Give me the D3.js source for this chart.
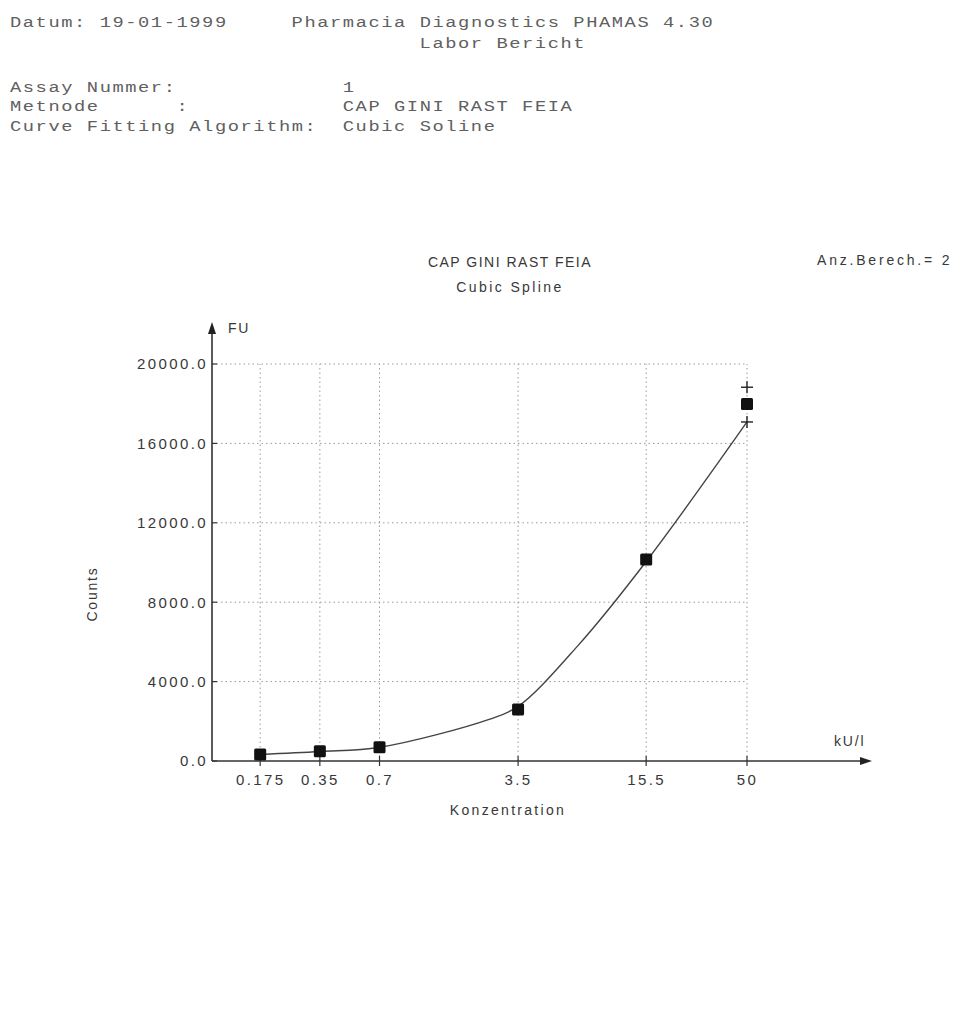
<!DOCTYPE html>
<html>
<head>
<meta charset="utf-8">
<script src="https://cdn.jsdelivr.net/npm/d3@7"></script>
<style>
  html, body { margin: 0; padding: 0; background: #fff; }
  svg { display: block; }
  .mono { font-family: "Liberation Mono", "DejaVu Sans Mono", monospace; font-size: 15px; fill: #606060; letter-spacing: 1.25px; }
  .sans { font-family: "Liberation Sans", Arial, sans-serif; font-size: 14px; fill: #383838; letter-spacing: 1.8px; }
</style>
</head>
<body>
<script>
// Standards of the calibration (concentration in kU/l)
const concentrations = [0.175, 0.35, 0.7, 3.5, 15.5, 50];
// Measured fluorescence (FU) of each standard, mean of replicates
const meanCounts = [330, 490, 690, 2600, 10150, 17980];
// Single replicate readings plotted as "+" at the top standard
const replicateConc = [50, 50];
const replicateCounts = [18830, 17080];
// Cubic spline fit, evaluated at a set of concentrations along the range
const fitConc = [0.175, 0.35, 0.7, 2.5, 3.5, 7, 15.5, 50];
const fitCounts = [330, 480, 690, 2100, 2750, 5800, 10050, 17080];
// Axis ticks
const xTicks = [0.175, 0.35, 0.7, 3.5, 15.5, 50];
const xTickLabels = ["0.175", "0.35", "0.7", "3.5", "15.5", "50"];
const yTicks = [0, 4000, 8000, 12000, 16000, 20000];

// Report header lines (column layout of the printout)
const headerLines = [
  { col: 0, row: 0, text: "Datum: 19-01-1999" },
  { col: 22, row: 0, text: "Pharmacia Diagnostics PHAMAS 4.30" },
  { col: 32, row: 1, text: "Labor Bericht" },
  { col: 0, row: 3, text: "Assay Nummer:" },
  { col: 26, row: 3, text: "1" },
  { col: 0, row: 4, text: "Metnode      :" },
  { col: 26, row: 4, text: "CAP GINI RAST FEIA" },
  { col: 0, row: 5, text: "Curve Fitting Algorithm:" },
  { col: 26, row: 5, text: "Cubic Soline" }
];

const W = 960, H = 1012;
const svg = d3.select("body").append("svg").attr("width", W).attr("height", H);

// Header: printer text, glyphs widened to the 12.8px printer pitch
const charW = 12.8, stretch = 1.25;
const rowY = [27, 48, 69, 92, 111, 131];
svg.append("g").attr("transform", `scale(${stretch},1)`)
  .selectAll("text").data(headerLines).join("text")
  .attr("class", "mono")
  .attr("x", d => (10 + d.col * charW) / stretch)
  .attr("y", d => rowY[d.row])
  .attr("xml:space", "preserve")
  .style("white-space", "pre")
  .text(d => d.text);

// Scales
const x = d3.scaleLog().domain([0.1, 50]).range([212, 747]);
const y = d3.scaleLinear().domain([0, 20000]).range([761, 364]);
const x0 = x.range()[0], xEnd = 872;
const y0 = y(0), yTop = 322;

// Grid
const grid = svg.append("g").attr("stroke", "#9a9a9a").attr("stroke-width", 1).attr("stroke-dasharray", "1.5,3");
grid.selectAll("line.h").data(yTicks.filter(v => v > 0)).join("line")
  .attr("x1", x0).attr("x2", x(50))
  .attr("y1", d => y(d)).attr("y2", d => y(d));
grid.selectAll("line.v").data(xTicks).join("line")
  .attr("x1", d => x(d)).attr("x2", d => x(d))
  .attr("y1", y0).attr("y2", y(20000));

// Axes
const axisColor = "#333";
svg.append("line").attr("x1", x0).attr("x2", xEnd - 8).attr("y1", y0).attr("y2", y0)
  .attr("stroke", axisColor).attr("stroke-width", 1.6);
svg.append("line").attr("x1", x0).attr("x2", x0).attr("y1", y0).attr("y2", yTop + 8)
  .attr("stroke", axisColor).attr("stroke-width", 1.6);
svg.append("path").attr("d", `M${xEnd},${y0} l-12,-4 l0,8 z`).attr("fill", "#222");
svg.append("path").attr("d", `M${x0},${yTop} l-4,12 l8,0 z`).attr("fill", "#222");

// Ticks
const yAxis = d3.axisLeft(y).tickValues(yTicks).tickSize(0).tickPadding(6).tickFormat(d3.format(".1f"));
const yg = svg.append("g").attr("transform", `translate(${x0},0)`).call(yAxis);
yg.select(".domain").remove();
yg.selectAll("text").attr("class", "sans").attr("font-family", null).attr("font-size", null)
  .style("font-size", "15px").style("letter-spacing", "2.4px").attr("dx", "2px");
svg.append("g").selectAll("line").data(yTicks).join("line")
  .attr("x1", x0).attr("x2", x0 + 5).attr("y1", d => y(d)).attr("y2", d => y(d))
  .attr("stroke", axisColor).attr("stroke-width", 1.2);

const xAxis = d3.axisBottom(x).tickValues(xTicks).tickSize(0).tickPadding(13)
  .tickFormat((d, i) => xTickLabels[i]);
const xg = svg.append("g").attr("transform", `translate(0,${y0})`).call(xAxis);
xg.select(".domain").remove();
xg.selectAll("text").attr("class", "sans").attr("font-family", null).attr("font-size", null)
  .style("font-size", "15px").style("letter-spacing", "2.4px");
svg.append("g").selectAll("line").data(xTicks).join("line")
  .attr("x1", d => x(d)).attr("x2", d => x(d)).attr("y1", y0 - 5).attr("y2", y0 + 5)
  .attr("stroke", axisColor).attr("stroke-width", 1.2);

// Axis titles
svg.append("text").attr("class", "sans").attr("x", x0 + 16).attr("y", yTop + 11).text("FU");
svg.append("text").attr("class", "sans").attr("x", 834).attr("y", 746).text("kU/l");
svg.append("text").attr("class", "sans").attr("text-anchor", "middle")
  .attr("transform", "translate(97,594) rotate(-90)").text("Counts");
svg.append("text").attr("class", "sans").attr("text-anchor", "middle")
  .attr("x", 508).attr("y", 815).style("letter-spacing", "2.3px").text("Konzentration");

// Chart titles
svg.append("text").attr("class", "sans").attr("text-anchor", "middle")
  .attr("x", 510).attr("y", 267).style("letter-spacing", "1.5px").text("CAP GINI RAST FEIA");
svg.append("text").attr("class", "sans").attr("text-anchor", "middle")
  .attr("x", 510).attr("y", 292).style("letter-spacing", "2.4px").text("Cubic Spline");
svg.append("text").attr("class", "sans").attr("x", 817).attr("y", 265)
  .style("letter-spacing", "2.8px").text("Anz.Berech.= 2");

// Fitted curve
const fit = fitConc.map((c, i) => [c, fitCounts[i]]);
svg.append("path").datum(fit)
  .attr("fill", "none").attr("stroke", "#444").attr("stroke-width", 1.4)
  .attr("d", d3.line().x(d => x(d[0])).y(d => y(d[1])).curve(d3.curveCatmullRom.alpha(0.5)));

// Standard means as filled squares
const sq = 12;
svg.append("g").selectAll("rect").data(concentrations).join("rect")
  .attr("x", d => x(d) - sq / 2)
  .attr("y", (d, i) => y(meanCounts[i]) - sq / 2)
  .attr("width", sq).attr("height", sq).attr("rx", 1.5)
  .attr("fill", "#111");

// Replicates as plus markers
const pg = svg.append("g").attr("stroke", "#222").attr("stroke-width", 1.4);
replicateConc.forEach((c, i) => {
  const cx = x(c), cy = y(replicateCounts[i]);
  pg.append("line").attr("x1", cx - 6).attr("x2", cx + 6).attr("y1", cy).attr("y2", cy);
  pg.append("line").attr("x1", cx).attr("x2", cx).attr("y1", cy - 6).attr("y2", cy + 6);
});
</script>
</body>
</html>
